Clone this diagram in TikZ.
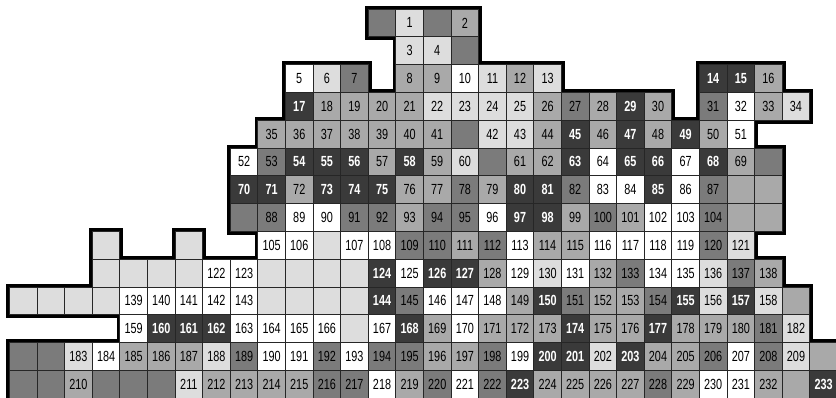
\documentclass[tikz,border=0pt]{standalone}
\usepackage{fontspec}
\setmainfont{Liberation Sans}[FakeStretch=0.74]
\usepackage{tikz}
\usepackage{xcolor}
\definecolor{cellpale}{HTML}{DDDDDD}
\definecolor{cellmid}{HTML}{A9A9A9}
\definecolor{celldark}{HTML}{7B7B7B}
\definecolor{cellblack}{HTML}{3A3A3A}
\tikzset{
  cell/.style={
    draw=black!85,
    line width=0.7pt,
    rectangle,
    minimum width=20.7pt,
    minimum height=20.85pt,
    inner sep=0pt,
    font=\fontsize{11}{13}\selectfont
  },
  whitecell/.style={cell, fill=white},
  palecell/.style={cell, fill=cellpale},
  midcell/.style={cell, fill=cellmid},
  darkcell/.style={cell, fill=celldark},
  blackcell/.style={cell, fill=cellblack, text=white, font=\fontsize{11}{13}\selectfont\bfseries},
  outline/.style={draw=black, line width=5pt}
}

\newcommand{\mapcells}{%
  0/13/{}/darkcell, 0/14/1/palecell, 0/15/{}/darkcell, 0/16/2/midcell,
  1/14/3/palecell, 1/15/4/palecell, 1/16/{}/darkcell,
  2/10/5/whitecell, 2/11/6/palecell, 2/12/7/darkcell, 2/14/8/midcell, 2/15/9/midcell,
  2/16/10/whitecell, 2/17/11/palecell, 2/18/12/midcell, 2/19/13/palecell,
  2/25/14/blackcell, 2/26/15/blackcell, 2/27/16/midcell,
  3/10/17/blackcell, 3/11/18/midcell, 3/12/19/midcell, 3/13/20/midcell, 3/14/21/midcell,
  3/15/22/palecell, 3/16/23/palecell, 3/17/24/palecell, 3/18/25/palecell, 3/19/26/midcell,
  3/20/27/darkcell, 3/21/28/midcell, 3/22/29/blackcell, 3/23/30/midcell,
  3/25/31/darkcell, 3/26/32/whitecell, 3/27/33/midcell, 3/28/34/palecell,
  4/9/35/midcell, 4/10/36/midcell, 4/11/37/midcell, 4/12/38/midcell, 4/13/39/midcell,
  4/14/40/midcell, 4/15/41/midcell, 4/16/{}/darkcell, 4/17/42/palecell, 4/18/43/palecell,
  4/19/44/midcell, 4/20/45/blackcell, 4/21/46/midcell, 4/22/47/blackcell, 4/23/48/midcell,
  4/24/49/blackcell, 4/25/50/midcell, 4/26/51/whitecell,
  5/8/52/whitecell, 5/9/53/darkcell, 5/10/54/blackcell, 5/11/55/blackcell, 5/12/56/blackcell,
  5/13/57/midcell, 5/14/58/blackcell, 5/15/59/midcell, 5/16/60/palecell, 5/17/{}/darkcell,
  5/18/61/midcell, 5/19/62/midcell, 5/20/63/blackcell, 5/21/64/whitecell, 5/22/65/blackcell,
  5/23/66/blackcell, 5/24/67/whitecell, 5/25/68/blackcell, 5/26/69/midcell, 5/27/{}/darkcell,
  6/8/70/blackcell, 6/9/71/blackcell, 6/10/72/midcell, 6/11/73/blackcell, 6/12/74/blackcell,
  6/13/75/blackcell, 6/14/76/midcell, 6/15/77/midcell, 6/16/78/darkcell, 6/17/79/midcell,
  6/18/80/blackcell, 6/19/81/blackcell, 6/20/82/darkcell, 6/21/83/whitecell, 6/22/84/whitecell,
  6/23/85/blackcell, 6/24/86/whitecell, 6/25/87/darkcell, 6/26/{}/midcell, 6/27/{}/midcell,
  7/8/{}/darkcell, 7/9/88/darkcell, 7/10/89/whitecell, 7/11/90/whitecell, 7/12/91/darkcell,
  7/13/92/darkcell, 7/14/93/midcell, 7/15/94/darkcell, 7/16/95/darkcell, 7/17/96/whitecell,
  7/18/97/blackcell, 7/19/98/blackcell, 7/20/99/midcell, 7/21/100/darkcell, 7/22/101/midcell,
  7/23/102/whitecell, 7/24/103/whitecell, 7/25/104/darkcell, 7/26/{}/midcell, 7/27/{}/midcell,
  8/3/{}/palecell, 8/6/{}/palecell, 8/9/105/whitecell, 8/10/106/whitecell, 8/11/{}/palecell,
  8/12/107/whitecell, 8/13/108/whitecell, 8/14/109/darkcell, 8/15/110/darkcell, 8/16/111/midcell,
  8/17/112/darkcell, 8/18/113/whitecell, 8/19/114/midcell, 8/20/115/midcell, 8/21/116/whitecell,
  8/22/117/whitecell, 8/23/118/whitecell, 8/24/119/whitecell, 8/25/120/darkcell, 8/26/121/palecell,
  9/3/{}/palecell, 9/4/{}/palecell, 9/5/{}/palecell, 9/6/{}/palecell, 9/7/122/whitecell,
  9/8/123/whitecell, 9/9/{}/palecell, 9/10/{}/palecell, 9/11/{}/palecell, 9/12/{}/palecell,
  9/13/124/blackcell, 9/14/125/whitecell, 9/15/126/blackcell, 9/16/127/blackcell, 9/17/128/midcell,
  9/18/129/whitecell, 9/19/130/palecell, 9/20/131/whitecell, 9/21/132/midcell, 9/22/133/darkcell,
  9/23/134/whitecell, 9/24/135/whitecell, 9/25/136/palecell, 9/26/137/darkcell, 9/27/138/midcell,
  10/0/{}/palecell, 10/1/{}/palecell, 10/2/{}/palecell, 10/3/{}/palecell, 10/4/139/whitecell,
  10/5/140/whitecell, 10/6/141/whitecell, 10/7/142/whitecell, 10/8/143/whitecell,
  10/9/{}/palecell, 10/10/{}/palecell, 10/11/{}/palecell, 10/12/{}/palecell,
  10/13/144/blackcell, 10/14/145/darkcell, 10/15/146/whitecell, 10/16/147/whitecell,
  10/17/148/whitecell, 10/18/149/midcell, 10/19/150/blackcell, 10/20/151/darkcell,
  10/21/152/midcell, 10/22/153/midcell, 10/23/154/darkcell, 10/24/155/blackcell,
  10/25/156/palecell, 10/26/157/blackcell, 10/27/158/palecell, 10/28/{}/midcell,
  11/4/159/whitecell, 11/5/160/blackcell, 11/6/161/blackcell, 11/7/162/blackcell,
  11/8/163/whitecell, 11/9/164/whitecell, 11/10/165/whitecell, 11/11/166/whitecell,
  11/12/{}/palecell, 11/13/167/whitecell, 11/14/168/blackcell, 11/15/169/midcell,
  11/16/170/whitecell, 11/17/171/midcell, 11/18/172/midcell, 11/19/173/midcell,
  11/20/174/blackcell, 11/21/175/midcell, 11/22/176/midcell, 11/23/177/blackcell,
  11/24/178/midcell, 11/25/179/midcell, 11/26/180/midcell, 11/27/181/darkcell, 11/28/182/palecell,
  12/0/{}/darkcell, 12/1/{}/darkcell, 12/2/183/palecell, 12/3/184/whitecell, 12/4/185/midcell,
  12/5/186/midcell, 12/6/187/midcell, 12/7/188/palecell, 12/8/189/darkcell, 12/9/190/whitecell,
  12/10/191/whitecell, 12/11/192/darkcell, 12/12/193/whitecell, 12/13/194/darkcell,
  12/14/195/darkcell, 12/15/196/midcell, 12/16/197/midcell, 12/17/198/darkcell,
  12/18/199/whitecell, 12/19/200/blackcell, 12/20/201/blackcell, 12/21/202/palecell,
  12/22/203/blackcell, 12/23/204/midcell, 12/24/205/midcell, 12/25/206/darkcell,
  12/26/207/whitecell, 12/27/208/darkcell, 12/28/209/palecell, 12/29/{}/midcell,
  13/0/{}/darkcell, 13/1/{}/darkcell, 13/2/210/midcell, 13/3/{}/darkcell, 13/4/{}/darkcell,
  13/5/{}/darkcell, 13/6/211/palecell, 13/7/212/midcell, 13/8/213/midcell, 13/9/214/midcell,
  13/10/215/midcell, 13/11/216/darkcell, 13/12/217/darkcell, 13/13/218/whitecell,
  13/14/219/midcell, 13/15/220/darkcell, 13/16/221/whitecell, 13/17/222/darkcell,
  13/18/223/blackcell, 13/19/224/midcell, 13/20/225/midcell, 13/21/226/midcell,
  13/22/227/midcell, 13/23/228/darkcell, 13/24/229/midcell, 13/25/230/whitecell,
  13/26/231/whitecell, 13/27/232/midcell, 13/28/{}/midcell, 13/29/233/blackcell%
}

\begin{document}
\begin{tikzpicture}[x=20.7pt, y=-20.85pt]
  \useasboundingbox (-0.344,-0.324) rectangle (29.95,13.99);

  % thick rim first, the cells cover its inner half
  \foreach \r/\c/\n/\s in \mapcells
    \draw[outline] (\c,\r) rectangle ++(1,1);

  \foreach \r/\c/\n/\s in \mapcells
    \node[\s] (cell-\r-\c) at (\c+0.5,\r+0.5) {\n};
\end{tikzpicture}
\end{document}
